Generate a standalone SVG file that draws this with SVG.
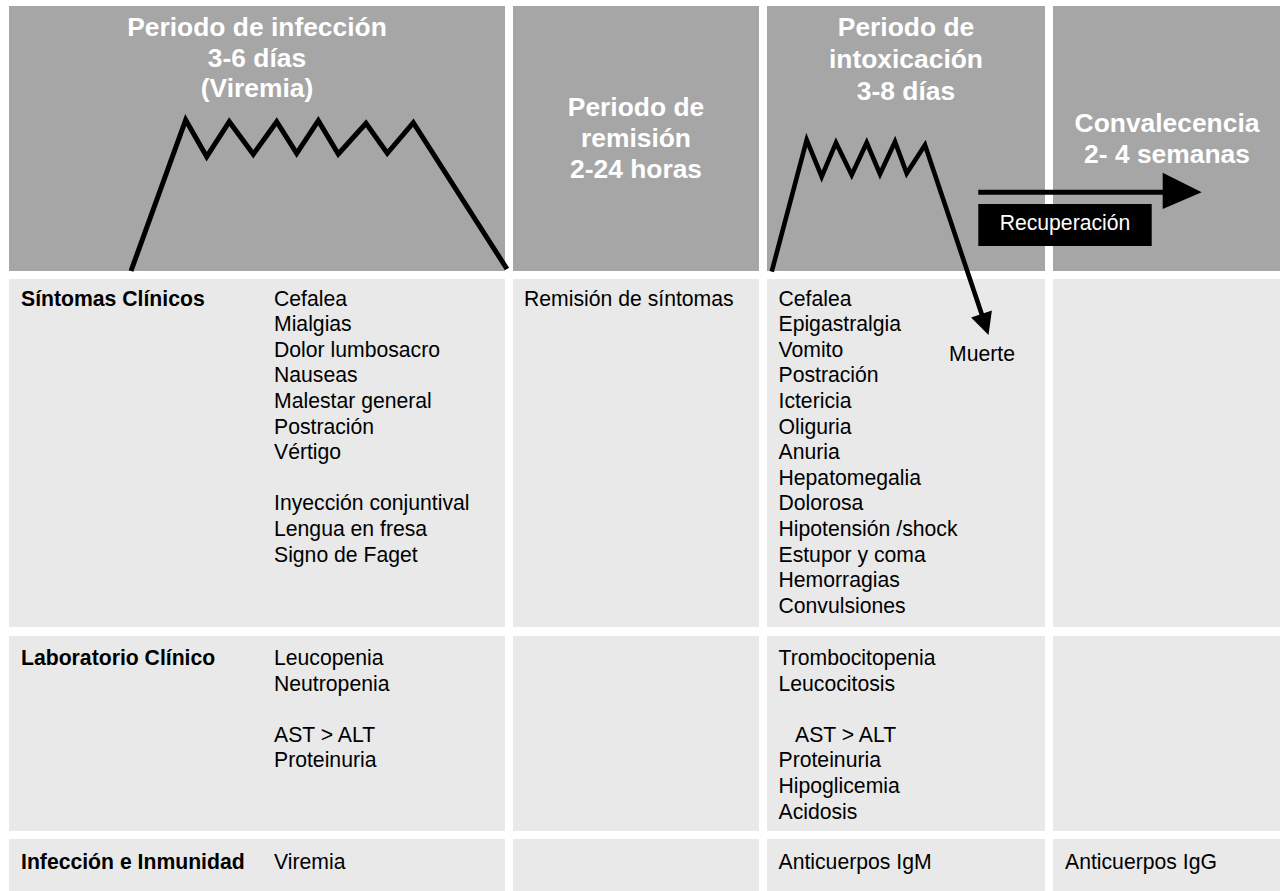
<svg xmlns="http://www.w3.org/2000/svg" width="1286" height="891" viewBox="0 0 1286 891">
  <style>
    .hdr { fill: #a6a6a6; }
    .cell { fill: #e9e9e9; }
    .ht { font-family: "Liberation Sans", Arial, sans-serif; font-weight: bold; font-size: 26.4px; fill: #ffffff; text-anchor: middle; }
    .lbl { font-family: "Liberation Sans", Arial, sans-serif; font-weight: bold; font-size: 21.2px; fill: #000000; }
    .bt { font-family: "Liberation Sans", Arial, sans-serif; font-size: 21.2px; fill: #000000; }
    .curve { fill: none; stroke: #000000; stroke-linejoin: miter; stroke-linecap: butt; }
  </style>
  <rect x="0" y="0" width="1286" height="891" fill="#ffffff"/>

  <g id="header-infeccion">
    <rect class="hdr" x="9" y="6" width="496" height="265"/>
    <text class="ht" x="257" y="36">Periodo de infección</text>
    <text class="ht" x="257" y="67">3-6 días</text>
    <text class="ht" x="257" y="97">(Viremia)</text>
  </g>
  <g id="header-remision">
    <rect class="hdr" x="513" y="6" width="246" height="265"/>
    <text class="ht" x="636" y="116">Periodo de</text>
    <text class="ht" x="636" y="147">remisión</text>
    <text class="ht" x="636" y="178">2-24 horas</text>
  </g>
  <g id="header-intoxicacion">
    <rect class="hdr" x="767" y="6" width="278" height="265"/>
    <text class="ht" x="906" y="36">Periodo de</text>
    <text class="ht" x="906" y="68">intoxicación</text>
    <text class="ht" x="906" y="99.5">3-8 días</text>
  </g>
  <g id="header-convalecencia">
    <rect class="hdr" x="1053" y="6" width="227" height="265"/>
    <text class="ht" x="1167" y="131.7">Convalecencia</text>
    <text class="ht" x="1167" y="163">2- 4 semanas</text>
  </g>

  <g id="row-sintomas">
    <rect class="cell" x="9" y="279" width="496" height="348"/>
    <rect class="cell" x="513" y="279" width="246" height="348"/>
    <rect class="cell" x="767" y="279" width="278" height="348"/>
    <rect class="cell" x="1053" y="279" width="227" height="348"/>
    <text class="lbl" x="21" y="305.5">Síntomas Clínicos</text>
    <text class="bt">
      <tspan x="274" y="305.5">Cefalea</tspan>
      <tspan x="274" y="331.1">Mialgias</tspan>
      <tspan x="274" y="356.7">Dolor lumbosacro</tspan>
      <tspan x="274" y="382.3">Nauseas</tspan>
      <tspan x="274" y="407.9">Malestar general</tspan>
      <tspan x="274" y="433.5">Postración</tspan>
      <tspan x="274" y="459.1">Vértigo</tspan>
      <tspan x="274" y="510.3">Inyección conjuntival</tspan>
      <tspan x="274" y="535.9">Lengua en fresa</tspan>
      <tspan x="274" y="561.5">Signo de Faget</tspan>
    </text>
    <text class="bt" x="524" y="305.5">Remisión de síntomas</text>
    <text class="bt">
      <tspan x="778.5" y="305.5">Cefalea</tspan>
      <tspan x="778.5" y="331.1">Epigastralgia</tspan>
      <tspan x="778.5" y="356.7">Vomito</tspan>
      <tspan x="778.5" y="382.3">Postración</tspan>
      <tspan x="778.5" y="407.9">Ictericia</tspan>
      <tspan x="778.5" y="433.5">Oliguria</tspan>
      <tspan x="778.5" y="459.1">Anuria</tspan>
      <tspan x="778.5" y="484.7">Hepatomegalia</tspan>
      <tspan x="778.5" y="510.3">Dolorosa</tspan>
      <tspan x="778.5" y="535.9">Hipotensión /shock</tspan>
      <tspan x="778.5" y="561.5">Estupor y coma</tspan>
      <tspan x="778.5" y="587.1">Hemorragias</tspan>
      <tspan x="778.5" y="612.7">Convulsiones</tspan>
    </text>
  </g>

  <g id="row-laboratorio">
    <rect class="cell" x="9" y="636" width="496" height="195"/>
    <rect class="cell" x="513" y="636" width="246" height="195"/>
    <rect class="cell" x="767" y="636" width="278" height="195"/>
    <rect class="cell" x="1053" y="636" width="227" height="195"/>
    <text class="lbl" x="21" y="665">Laboratorio Clínico</text>
    <text class="bt">
      <tspan x="274" y="665">Leucopenia</tspan>
      <tspan x="274" y="690.6">Neutropenia</tspan>
      <tspan x="274" y="741.8">AST &gt; ALT</tspan>
      <tspan x="274" y="767.4">Proteinuria</tspan>
    </text>
    <text class="bt">
      <tspan x="778.5" y="665">Trombocitopenia</tspan>
      <tspan x="778.5" y="690.6">Leucocitosis</tspan>
      <tspan x="795" y="741.8">AST &gt; ALT</tspan>
      <tspan x="778.5" y="767.4">Proteinuria</tspan>
      <tspan x="778.5" y="793">Hipoglicemia</tspan>
      <tspan x="778.5" y="818.6">Acidosis</tspan>
    </text>
  </g>

  <g id="row-inmunidad">
    <rect class="cell" x="9" y="839" width="496" height="52"/>
    <rect class="cell" x="513" y="839" width="246" height="52"/>
    <rect class="cell" x="767" y="839" width="278" height="52"/>
    <rect class="cell" x="1053" y="839" width="227" height="52"/>
    <text class="lbl" x="21" y="869.3">Infección e Inmunidad</text>
    <text class="bt" x="274" y="869.3">Viremia</text>
    <text class="bt" x="778.5" y="869.3">Anticuerpos IgM</text>
    <text class="bt" x="1065" y="869.3">Anticuerpos IgG</text>
  </g>

  <g id="connectors">
    <polyline class="curve" stroke-width="5" points="131,271 185.7,120 206.7,156.7 229.3,121.7 253.3,154.3 276.7,121.7 296.7,153.3 318.3,120.7 338.3,154 366,123.3 387.3,153.3 413.3,122.7 507,269"/>
    <polyline class="curve" stroke-width="4.6" points="771.7,271.7 806.7,140 821.7,176.7 836,142.7 851.7,175 866.7,142.7 880,174 895,141.7 906.7,173.3 925,145 982,315"/>
    <polygon points="988.5,335 971.1,317.6 991.9,310.6" fill="#000000"/>
    <line x1="978.3" y1="192.3" x2="1164" y2="192.3" stroke="#000000" stroke-width="5"/>
    <polygon points="1162.7,172.7 1201.7,192.3 1162.7,209" fill="#000000"/>
  </g>

  <g id="recuperacion">
    <rect x="978.3" y="204" width="173.4" height="42" fill="#000000"/>
    <text class="bt" x="1065" y="230" text-anchor="middle" fill="#ffffff" style="fill:#ffffff">Recuperación</text>
  </g>
  <g id="muerte">
    <text class="bt" x="949" y="360.5">Muerte</text>
  </g>
</svg>
